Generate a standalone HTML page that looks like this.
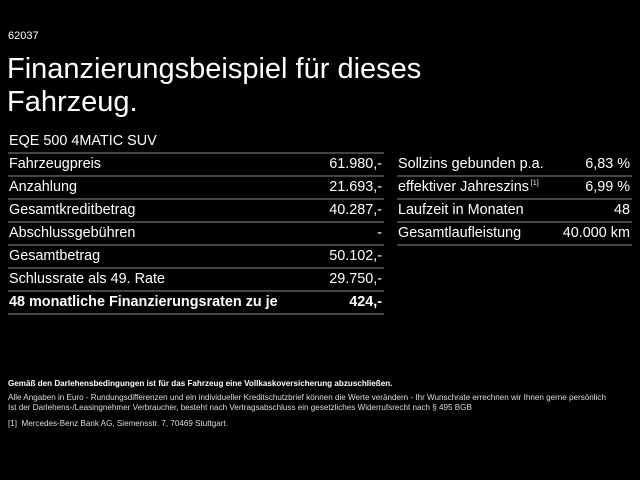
<!DOCTYPE html>
<html><head><meta charset="utf-8"><style>
body{margin:0;width:640px;height:480px;background:#000;color:#fff;font-family:"Liberation Sans",Arial,sans-serif;overflow:hidden;position:relative}
.a{position:absolute;white-space:nowrap}
.row{position:absolute;height:23px;border-bottom:2px solid #444;box-sizing:border-box;font-size:14.4px;line-height:21px}
.row span.r{position:absolute;right:2px;top:0}
.row span.l{position:absolute;left:1px;top:0}
.f{position:absolute;left:8px;font-size:8.1px;color:#ddd;white-space:nowrap}
sup{line-height:0}
</style></head><body>
<div class="a" style="left:8px;top:30px;font-size:11px">62037</div>
<div class="a" style="left:7px;top:53px;font-size:29px;line-height:33px">Finanzierungsbeispiel für dieses<br>Fahrzeug.</div>
<div class="row" style="left:8px;top:131px;width:376px"><span class="l">EQE 500 4MATIC SUV</span></div>
<div class="row" style="left:8px;top:154px;width:376px"><span class="l">Fahrzeugpreis</span><span class="r">61.980,-</span></div>
<div class="row" style="left:8px;top:177px;width:376px"><span class="l">Anzahlung</span><span class="r">21.693,-</span></div>
<div class="row" style="left:8px;top:200px;width:376px"><span class="l">Gesamtkreditbetrag</span><span class="r">40.287,-</span></div>
<div class="row" style="left:8px;top:223px;width:376px"><span class="l">Abschlussgebühren</span><span class="r">-</span></div>
<div class="row" style="left:8px;top:246px;width:376px"><span class="l">Gesamtbetrag</span><span class="r">50.102,-</span></div>
<div class="row" style="left:8px;top:269px;width:376px"><span class="l">Schlussrate als 49. Rate</span><span class="r">29.750,-</span></div>
<div class="row" style="left:8px;top:292px;width:376px;font-weight:bold"><span class="l">48 monatliche Finanzierungsraten zu je</span><span class="r">424,-</span></div>
<div class="row" style="left:397px;top:154px;width:235px"><span class="l">Sollzins gebunden p.a.</span><span class="r">6,83 %</span></div>
<div class="row" style="left:397px;top:177px;width:235px"><span class="l">effektiver Jahreszins<sup style="font-size:7px;vertical-align:6px"> [1]</sup></span><span class="r">6,99 %</span></div>
<div class="row" style="left:397px;top:200px;width:235px"><span class="l">Laufzeit in Monaten</span><span class="r">48</span></div>
<div class="row" style="left:397px;top:223px;width:235px"><span class="l">Gesamtlaufleistung</span><span class="r">40.000 km</span></div>
<div class="f" style="top:379px;font-weight:bold;color:#fff">Gemäß den Darlehensbedingungen ist für das Fahrzeug eine Vollkaskoversicherung abzuschließen.</div>
<div class="f" style="top:393px">Alle Angaben in Euro - Rundungsdifferenzen und ein individueller Kreditschutzbrief können die Werte verändern - Ihr Wunschrate errechnen wir Ihnen gerne persönlich</div>
<div class="f" style="top:403px">Ist der Darlehens-/Leasingnehmer Verbraucher, besteht nach Vertragsabschluss ein gesetzliches Widerrufsrecht nach § 495 BGB</div>
<div class="f" style="top:419px">[1]&nbsp; Mercedes-Benz Bank AG, Siemensstr. 7, 70469 Stuttgart.</div>
</body></html>
